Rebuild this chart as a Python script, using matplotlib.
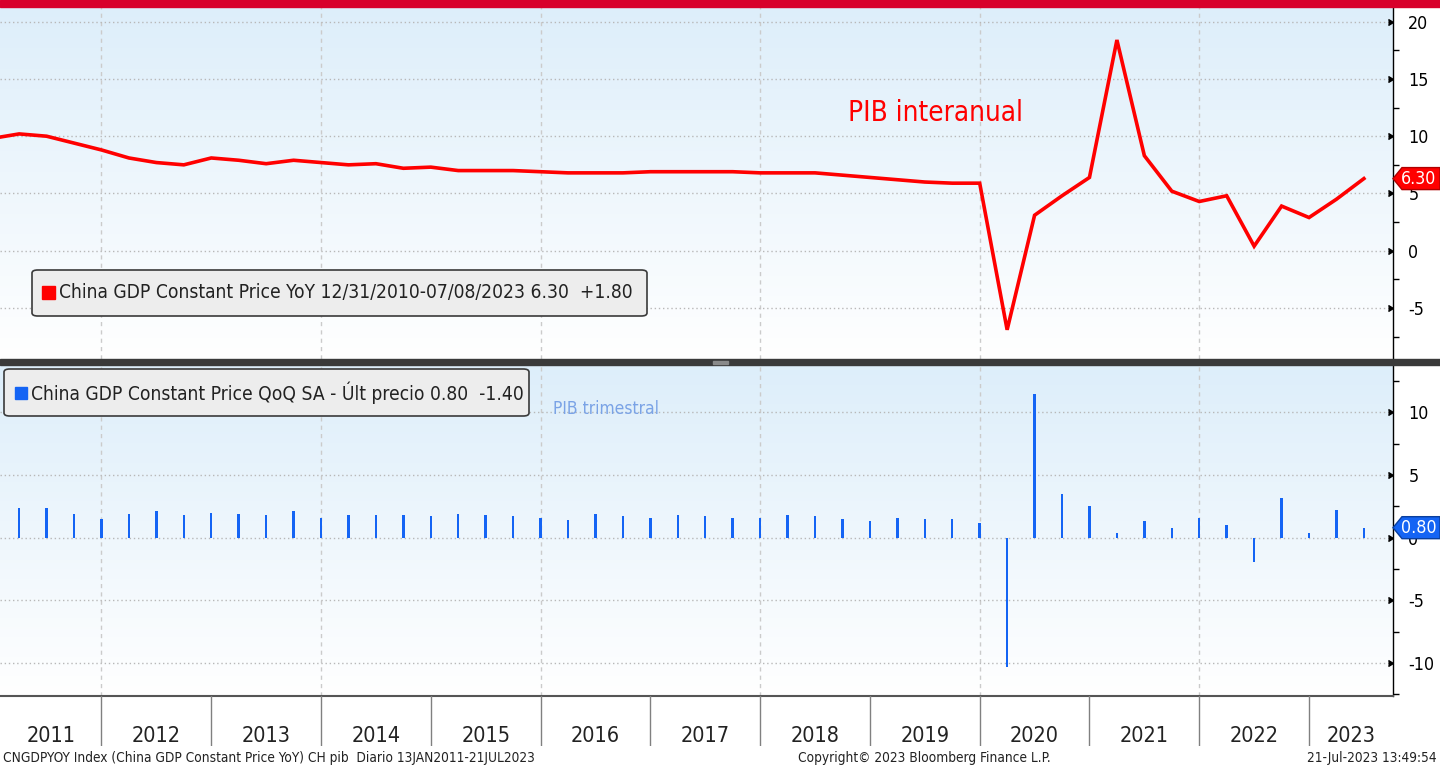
import numpy as np
import pandas as pd
import matplotlib
matplotlib.use("Agg")
import matplotlib.pyplot as plt
from matplotlib.patches import Rectangle, FancyBboxPatch, Polygon
from matplotlib.colors import LinearSegmentedColormap
from matplotlib.ticker import MultipleLocator

plt.rcParams['font.family'] = ['DejaVu Sans']
plt.rcParams['font.stretch'] = 'condensed'
plt.rcParams['axes.unicode_minus'] = False

# China GDP constant price, YoY (%), 2010Q4 .. 2023Q2
yoy = [9.8,
       10.2, 10.0, 9.4, 8.8,
       8.1, 7.7, 7.5, 8.1,
       7.9, 7.6, 7.9, 7.7,
       7.5, 7.6, 7.2, 7.3,
       7.0, 7.0, 7.0, 6.9,
       6.8, 6.8, 6.8, 6.9,
       6.9, 6.9, 6.9, 6.8,
       6.8, 6.8, 6.6, 6.4,
       6.2, 6.0, 5.9, 5.9,
       -6.9, 3.1, 4.8, 6.4,
       18.4, 8.3, 5.2, 4.3,
       4.8, 0.4, 3.9, 2.9,
       4.5, 6.3]

# China GDP constant price, QoQ SA (%), 2011Q1 .. 2023Q2
qoq = [2.4, 2.4, 1.9, 1.5,
       1.9, 2.1, 1.8, 2.0,
       1.9, 1.8, 2.1, 1.6,
       1.8, 1.8, 1.8, 1.7,
       1.9, 1.8, 1.7, 1.6,
       1.4, 1.9, 1.7, 1.6,
       1.8, 1.7, 1.6, 1.6,
       1.8, 1.7, 1.5, 1.3,
       1.6, 1.5, 1.5, 1.2,
       -10.3, 11.5, 3.5, 2.5,
       0.4, 1.3, 0.8, 1.6,
       1.0, -1.9, 3.2, 0.4,
       2.2, 0.8]

yoy_q = pd.period_range('2010Q4', periods=len(yoy), freq='Q')
qoq_q = pd.period_range('2011Q1', periods=len(qoq), freq='Q')
x_yoy = np.array([p.year + p.quarter / 4 for p in yoy_q])
x_qoq = np.array([p.year + p.quarter / 4 for p in qoq_q])

years = list(range(2011, 2024))
top_ticks = [20, 15, 10, 5, 0, -5]
bot_ticks = [10, 5, 0, -5, -10]

legend_top = "China GDP Constant Price YoY 12/31/2010-07/08/2023 6.30  +1.80"
legend_bot = "China GDP Constant Price QoQ SA - \u00dalt precio 0.80  -1.40"
footer_left = "CNGDPYOY Index (China GDP Constant Price YoY) CH pib  Diario 13JAN2011-21JUL2023"
footer_mid = "Copyright\u00a9 2023 Bloomberg Finance L.P."
footer_right = "21-Jul-2023 13:49:54"

W, H = 1440, 766
XMIN, XMAX = 2011.0756, 2023.765
RED = '#ff0000'
BLUE = '#1464f4'


def px(x0, y0, x1, y1):
    return [x0 / W, 1 - y1 / H, (x1 - x0) / W, (y1 - y0) / H]


def fx(x):
    return x / W


def fy(y):
    return 1 - y / H


fig = plt.figure(figsize=(14.4, 7.66), dpi=100, facecolor='white')

ax1 = fig.add_axes(px(0, 7, 1393, 359))
ax2 = fig.add_axes(px(0, 365, 1393, 696))
axy = fig.add_axes(px(0, 696, 1393, 746))

grad = LinearSegmentedColormap.from_list('bg', ['#ffffff', '#ddeefa'])

for ax, lims, ticks in [(ax1, (-9.45, 21.28), top_ticks), (ax2, (-12.63, 13.78), bot_ticks)]:
    ax.imshow(np.linspace(0, 1, 256)[:, None], cmap=grad, aspect='auto',
              extent=(0, 1, 0, 1), transform=ax.transAxes, origin='lower', zorder=0)
    ax.set_xlim(XMIN, XMAX)
    ax.set_ylim(*lims)
    ax.set_yticks(ticks)
    ax.yaxis.set_minor_locator(MultipleLocator(2.5))
    ax.yaxis.tick_right()
    ax.set_xticks([])
    ax.tick_params(axis='y', which='major', length=0, pad=11, labelsize=12.8)
    ax.tick_params(axis='y', which='minor', length=4, width=1, direction='out')
    ax.grid(axis='y', which='major', ls=(0, (1, 2)), color='#b8b8b8', lw=1, zorder=1)
    for yr in years[1::2]:
        ax.axvline(yr, color='#cbcbcb', ls=(0, (3, 3)), lw=1, zorder=1)
    for s in ['top', 'left', 'bottom']:
        ax.spines[s].set_visible(False)
    ax.spines['right'].set_color('black')
    ax.spines['right'].set_linewidth(1)
    ax.plot(np.ones(len(ticks)), ticks, ls='none', marker=5, ms=5, color='black',
            transform=ax.get_yaxis_transform(), clip_on=False, zorder=5)

ax1.plot(x_yoy, yoy, color=RED, lw=2.6, solid_joinstyle='miter', zorder=3)
ax2.bar(x_qoq, qoq, width=0.022, color=BLUE, zorder=3)

ax2.spines['bottom'].set_visible(True)
ax2.spines['bottom'].set_color('#555555')
ax2.spines['bottom'].set_linewidth(1.5)

# year band
axy.set_xlim(XMIN, XMAX)
axy.set_ylim(0, 1)
axy.axis('off')
for yr in years:
    if yr > XMIN:
        axy.axvline(yr, color='#808080', lw=1)
    lo, hi = max(yr, XMIN), min(yr + 1, XMAX)
    axy.text((lo + hi) / 2, 0.08, str(yr), ha='center', va='baseline', fontsize=15.5, color='#222222')

# decorations: top bar and panel separator
fig.patches.append(Rectangle((0, fy(7)), 1, 7 / H, transform=fig.transFigure, color='#d8002b'))
fig.patches.append(Rectangle((0, fy(365)), 1, 6 / H, transform=fig.transFigure, color='#3a3a3a'))
fig.patches.append(Rectangle((fx(713), fy(363.5)), 15 / W, 3 / H, transform=fig.transFigure, color='#8a8a8a'))

# legend boxes
for (x0, y0, x1, y1), (mx0, my0, mx1, my1), color, txt, tx, ty in [
        ((32, 270, 647, 316), (42, 286, 55, 299), RED, legend_top, 59, 293),
        ((4, 369, 529, 416), (15, 387, 27, 399), BLUE, legend_bot, 31, 393)]:
    fig.patches.append(FancyBboxPatch((fx(x0), fy(y1)), (x1 - x0) / W, (y1 - y0) / H,
                                      boxstyle='round,pad=0,rounding_size=0.004',
                                      transform=fig.transFigure, fc='#ededed', ec='#3a3a3a',
                                      lw=1.2, zorder=6))
    fig.patches.append(Rectangle((fx(mx0), fy(my1)), (mx1 - mx0) / W, (my1 - my0) / H,
                                 transform=fig.transFigure, color=color, zorder=7))
    fig.text(fx(tx), fy(ty), txt, ha='left', va='center', fontsize=13.8, color='#222222', zorder=8)

# annotations
fig.text(fx(848), fy(121), 'PIB interanual', ha='left', va='baseline', fontsize=20, color=RED)
fig.text(fx(553), fy(414), 'PIB trimestral', ha='left', va='baseline', fontsize=12.5, color='#7aa3e6')

# last value tags on the right axis
for ax, val, fc, ec in [(ax1, yoy[-1], RED, '#b00000'), (ax2, qoq[-1], BLUE, '#0a3f9e')]:
    yc = fig.transFigure.inverted().transform(ax.transData.transform((XMAX, val)))[1]
    h = 11 / H
    verts = [(fx(1393), yc), (fx(1402), yc + h), (1.0, yc + h), (1.0, yc - h), (fx(1402), yc - h)]
    fig.patches.append(Polygon(verts, closed=True, transform=fig.transFigure, fc=fc, ec=ec,
                               lw=1, zorder=9))
    fig.text(fx(1419), yc, f"{val:.2f}", ha='center', va='center', fontsize=12.8,
             color='white', zorder=10)

# footer
fig.text(fx(3), fy(762), footer_left, ha='left', va='baseline', fontsize=9.8, color='#222222')
fig.text(fx(798), fy(762), footer_mid, ha='left', va='baseline', fontsize=9.8, color='#222222')
fig.text(fx(1437), fy(762), footer_right, ha='right', va='baseline', fontsize=9.8, color='#222222')

fig.savefig('out.png', dpi=100, facecolor='white')
